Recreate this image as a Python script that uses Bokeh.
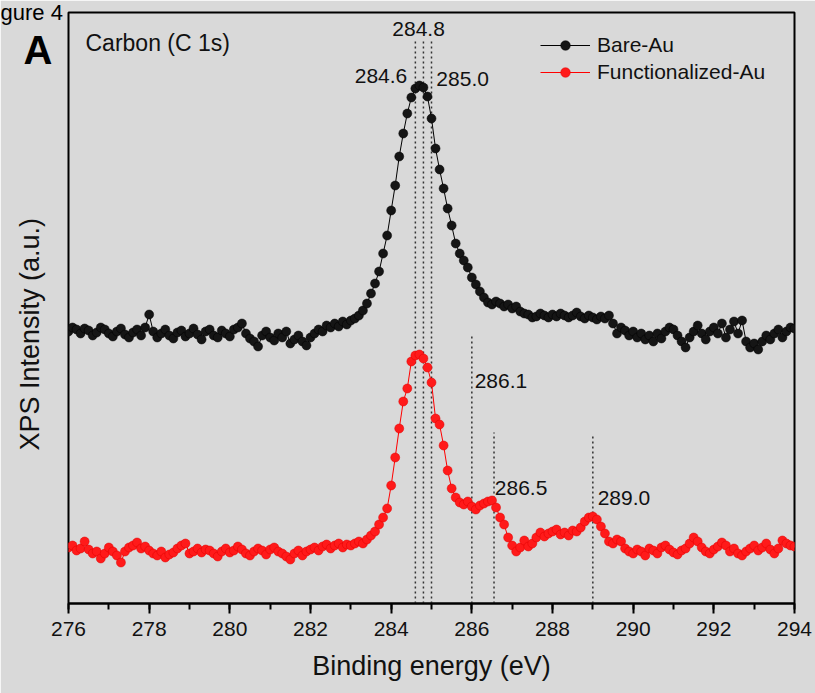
import numpy as np
from bokeh.plotting import figure
from bokeh.models import Range1d, Label, Legend, LegendItem, SingleIntervalTicker, FixedTicker
from bokeh.embed import file_html
from bokeh.resources import INLINE
from bokeh.core.properties import value

# Binding energy grid (eV)
energy = [
    276.0, 276.1, 276.2, 276.3, 276.4, 276.5, 276.6, 276.7, 276.8, 276.9,
    277.0, 277.1, 277.2, 277.3, 277.4, 277.5, 277.6, 277.7, 277.8, 277.9,
    278.0, 278.1, 278.2, 278.3, 278.4, 278.5, 278.6, 278.7, 278.8, 278.9,
    279.0, 279.1, 279.2, 279.3, 279.4, 279.5, 279.6, 279.7, 279.8, 279.9,
    280.0, 280.1, 280.2, 280.3, 280.4, 280.5, 280.6, 280.7, 280.8, 280.9,
    281.0, 281.1, 281.2, 281.3, 281.4, 281.5, 281.6, 281.7, 281.8, 281.9,
    282.0, 282.1, 282.2, 282.3, 282.4, 282.5, 282.6, 282.7, 282.8, 282.9,
    283.0, 283.1, 283.2, 283.3, 283.4, 283.5, 283.6, 283.7, 283.8, 283.9,
    284.0, 284.1, 284.2, 284.3, 284.4, 284.5, 284.6, 284.7, 284.8, 284.9,
    285.0, 285.1, 285.2, 285.3, 285.4, 285.5, 285.6, 285.7, 285.8, 285.9,
    286.0, 286.1, 286.2, 286.3, 286.4, 286.5, 286.6, 286.7, 286.8, 286.9,
    287.0, 287.1, 287.2, 287.3, 287.4, 287.5, 287.6, 287.7, 287.8, 287.9,
    288.0, 288.1, 288.2, 288.3, 288.4, 288.5, 288.6, 288.7, 288.8, 288.9,
    289.0, 289.1, 289.2, 289.3, 289.4, 289.5, 289.6, 289.7, 289.8, 289.9,
    290.0, 290.1, 290.2, 290.3, 290.4, 290.5, 290.6, 290.7, 290.8, 290.9,
    291.0, 291.1, 291.2, 291.3, 291.4, 291.5, 291.6, 291.7, 291.8, 291.9,
    292.0, 292.1, 292.2, 292.3, 292.4, 292.5, 292.6, 292.7, 292.8, 292.9,
    293.0, 293.1, 293.2, 293.3, 293.4, 293.5, 293.6, 293.7, 293.8, 293.9,
    294.0,
]

# Bare-Au C 1s intensity (a.u., offset for display)
bare_au = [
    272, 276, 274, 270, 275, 273, 268, 271, 276, 274,
    270, 267, 272, 275, 269, 266, 271, 274, 268, 276,
    289, 272, 266, 270, 274, 268, 265, 271, 273, 267,
    270, 275, 269, 264, 272, 274, 268, 266, 273, 270,
    267, 274, 276, 280, 270, 265, 262, 257, 268, 272,
    266, 263, 270, 266, 272, 260, 264, 268, 262, 258,
    266, 270, 274, 272, 278, 276, 280, 277, 282, 279,
    283, 285, 288, 293, 300, 310, 320, 332, 350, 368,
    393, 418, 447, 470, 490, 506, 515, 518, 516, 507,
    485, 455, 434, 415, 395, 378, 360, 350, 343, 336,
    326, 319, 312, 306, 301, 299, 302, 300, 297, 299,
    295, 297, 292, 290, 289, 286, 287, 290, 288, 286,
    289, 287, 290, 288, 286, 288, 291, 287, 285, 288,
    286, 284, 287, 285, 288, 280, 270, 276, 273, 268,
    272, 266, 270, 264, 268, 262, 270, 265, 272, 276,
    274, 268, 262, 256, 266, 272, 278, 270, 264, 272,
    276, 270, 280, 266, 274, 282, 270, 283, 262, 256,
    260, 254, 262, 268, 264, 270, 274, 266, 272, 276,
    275,
]

# Functionalized-Au C 1s intensity (a.u.)
functionalized_au = [
    56, 58, 53, 55, 62, 54, 50, 52, 45, 50,
    56, 52, 48, 41, 52, 56, 58, 61, 55, 57,
    53, 50, 48, 52, 46, 49, 51, 55, 58, 60,
    50, 52, 55, 51, 54, 53, 50, 47, 52, 55,
    51, 53, 57, 54, 50, 48, 52, 55, 53, 49,
    54, 56, 52, 50, 47, 44, 50, 53, 48, 52,
    54, 56, 53, 57, 59, 55, 58, 60, 56, 59,
    58, 60, 62, 60, 64, 68, 72, 79, 86, 95,
    118, 146, 175, 202, 215, 242, 248, 249, 245, 236,
    221, 185, 179, 158, 133, 115, 106, 101, 99, 102,
    97, 94, 98, 100, 102, 103, 96, 86, 79, 66,
    58, 52, 56, 63, 57, 60, 66, 71, 67, 70,
    72, 74, 69, 71, 68, 73, 72, 76, 82, 86,
    87, 84, 77, 70, 62, 60, 64, 62, 55, 52,
    50, 54, 52, 48, 55, 53, 50, 56, 58, 54,
    51, 49, 53, 55, 60, 66, 62, 56, 52, 50,
    54, 57, 61, 58, 52, 55, 50, 48, 52, 55,
    58, 53, 56, 60, 54, 50, 55, 63, 60, 58,
    57,
]

# Peak reference lines (energy, top of dotted line)
ref_line_energy = [284.6, 284.8, 285.0, 286.0, 286.55, 289.0]
ref_line_top = [565, 565, 565, 268, 171, 170]

# Peak annotations
center_labels = ["284.8"]
center_x = [284.68]
center_y = [575]
right_labels = ["284.6"]
right_x = [284.40]
right_y = [528]
left_labels = ["285.0", "286.1", "286.5", "289.0"]
left_x = [285.12, 286.07, 286.57, 289.12]
left_y = [525, 223, 116, 106]

FONT = "Liberation Sans"
BG = "#d9d9d9"
TXT = "#111111"
NBSP = "\u00a0"

p = figure(width=815, height=693, output_backend="svg", toolbar_location=None,
           x_range=Range1d(276, 294), y_range=Range1d(0, 591),
           min_border_left=68, min_border_right=21, min_border_top=12,
           min_border_bottom=90)

p.background_fill_color = BG
p.border_fill_color = BG
p.outline_line_color = "black"
p.outline_line_width = 2
p.xgrid.visible = False
p.ygrid.visible = False

# cropped figure caption at the top-left corner (as a title)
p.title.text = "gure 4"
p.title.align = "left"
p.title.offset = -68
p.title.standoff = -25
p.title.text_font = FONT
p.title.text_font_size = "22px"
p.title.text_font_style = "normal"
p.title.text_color = "black"

# x axis
xa = p.xaxis[0]
xa.ticker = SingleIntervalTicker(interval=2, num_minor_ticks=2)
xa.axis_line_width = 2
xa.major_tick_in = 0
xa.major_tick_out = 10
xa.minor_tick_in = 0
xa.minor_tick_out = 6
xa.major_tick_line_width = 2
xa.minor_tick_line_width = 2
xa.major_label_text_font = FONT
xa.major_label_text_font_size = "21px"
xa.major_label_text_color = TXT
xa.major_label_standoff = 8
xa.axis_label = "Binding energy (eV)"
xa.axis_label_text_font = FONT
xa.axis_label_text_font_size = "27px"
xa.axis_label_text_font_style = "normal"
xa.axis_label_text_color = TXT
xa.axis_label_standoff = 12

# y axis: no ticks; carries the panel letter and the axis title
LETTER_POS = 554
ya = p.yaxis[0]
ya.ticker = FixedTicker(ticks=[LETTER_POS])
ya.major_label_overrides = {LETTER_POS: "A"}
ya.axis_line_color = None
ya.major_tick_in = 0
ya.major_tick_out = 0
ya.minor_tick_in = 0
ya.minor_tick_out = 0
ya.major_label_standoff = 16
ya.major_label_text_font = FONT
ya.major_label_text_font_size = "40px"
ya.major_label_text_font_style = "bold"
ya.major_label_text_color = "black"
# trailing no-break spaces shift the visible title down, as in the original
ya.axis_label = "XPS Intensity (a.u.)" + NBSP * 7
ya.axis_label_text_font = FONT
ya.axis_label_text_font_size = "27px"
ya.axis_label_text_font_style = "normal"
ya.axis_label_text_color = TXT
ya.axis_label_standoff = -24

# dotted peak position lines
p.segment(x0=ref_line_energy, y0=[0] * len(ref_line_energy), x1=ref_line_energy,
          y1=ref_line_top, line_color="#333333", line_width=1.5, line_dash="2 3")

l1 = p.line(energy, bare_au, line_color="black", line_width=1)
s1 = p.scatter(energy, bare_au, marker="circle", size=9, fill_color="#151515",
               line_color="#000000", line_width=0.5)
l2 = p.line(energy, functionalized_au, line_color="#ff0000", line_width=1)
s2 = p.scatter(energy, functionalized_au, marker="circle", size=9, fill_color="#ff1a1a",
               line_color="#e00000", line_width=0.5)

p.text(center_x, center_y, text=center_labels, text_align="center", text_baseline="middle",
       text_font=value(FONT), text_font_size="21px", text_color=TXT)
p.text(right_x, right_y, text=right_labels, text_align="right", text_baseline="middle",
       text_font=value(FONT), text_font_size="21px", text_color=TXT)
p.text(left_x, left_y, text=left_labels, text_align="left", text_baseline="middle",
       text_font=value(FONT), text_font_size="21px", text_color=TXT)

legend = Legend(items=[LegendItem(label="Bare-Au", renderers=[l1, s1]),
                       LegendItem(label="Functionalized-Au", renderers=[l2, s2])],
                location=(472, 519), glyph_width=50, glyph_height=24, label_height=24,
                spacing=3, padding=0, margin=0, label_standoff=7,
                label_text_font=FONT, label_text_font_size="21px",
                label_text_color=TXT,
                background_fill_alpha=0, border_line_alpha=0)
p.add_layout(legend)

p.add_layout(Label(x=17, y=561, x_units="screen", y_units="screen", text="Carbon (C 1s)",
                   text_font=FONT, text_font_size="23px", text_baseline="middle",
                   text_color=TXT))

open("out.html", "w").write(file_html(p, INLINE))
